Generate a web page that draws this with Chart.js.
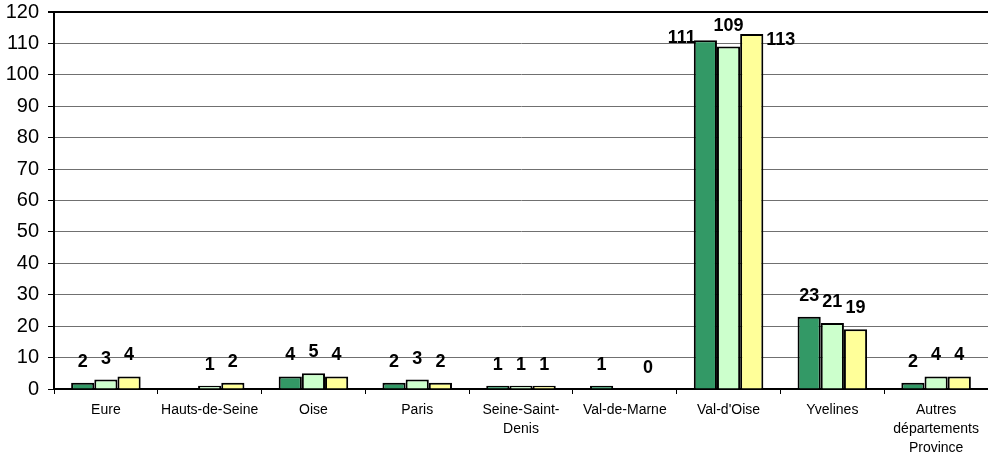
<!DOCTYPE html>
<html>
<head>
<meta charset="utf-8">
<script src="https://cdn.jsdelivr.net/npm/chart.js@4/dist/chart.umd.min.js"></script>
<style>
  html, body { margin: 0; padding: 0; background: #fff; }
  #wrap { width: 988px; height: 455px; position: relative; }
</style>
</head>
<body>
<div id="wrap"><canvas id="myChart"></canvas></div>
<script>
// categories (multi-line labels as in the original)
var categories = [
    'Eure',
    'Hauts-de-Seine',
    'Oise',
    'Paris',
    ['Seine-Saint-', 'Denis'],
    'Val-de-Marne',
    "Val-d'Oise",
    'Yvelines',
    ['Autres', 'départements', 'Province']
];

// series values (null = no bar / no label)
var serie1 = [2, null, 4, 2, 1, 1, 111, 23, 2];
var serie2 = [3, 1, 5, 3, 1, null, 109, 21, 4];
var serie3 = [4, 2, 4, 2, 1, 0, 113, 19, 4];

// y tick labels
var yTicks = [0, 10, 20, 30, 40, 50, 60, 70, 80, 90, 100, 110, 120];

// draw value labels above bars, move them beside the bar when there is no room
var valueLabels = {
    id: 'valueLabels',
    afterDatasetsDraw: function(chart) {
        var ctx = chart.ctx;
        var area = chart.chartArea;
        var n = chart.data.datasets.length;
        ctx.save();
        ctx.font = 'bold 18px "Liberation Sans", Arial, sans-serif';
        ctx.fillStyle = '#000';
        ctx.textBaseline = 'middle';
        chart.data.datasets.forEach(function(ds, i) {
            var meta = chart.getDatasetMeta(i);
            meta.data.forEach(function(bar, j) {
                var v = ds.data[j];
                if (v === null || v === undefined) return;
                var x = bar.x;
                var y = bar.y - 21;
                ctx.textAlign = 'center';
                if (y - 9 < area.top) {
                    if (i === 0) {
                        ctx.textAlign = 'right';
                        x = bar.x - bar.width / 2 + 2;
                        y = bar.y - 2;
                    } else if (i === n - 1) {
                        ctx.textAlign = 'left';
                        x = bar.x + bar.width / 2 + 3;
                        y = bar.y + 6;
                    } else {
                        y = bar.y - 16;
                    }
                }
                ctx.fillText(String(v), x, y);
            });
        });
        ctx.restore();
    }
};

var ctx = document.querySelector('#myChart').getContext('2d');

var chart = new Chart(ctx, {
    type: 'bar',
    data: {
        labels: categories,
        datasets: [{
            label: 'Série 1',
            data: serie1,
            backgroundColor: '#339966',
            borderColor: '#000',
            borderWidth: 2
        }, {
            label: 'Série 2',
            data: serie2,
            backgroundColor: '#ccffcc',
            borderColor: '#000',
            borderWidth: 2
        }, {
            label: 'Série 3',
            data: serie3,
            backgroundColor: '#ffff99',
            borderColor: '#000',
            borderWidth: 2
        }]
    },
    options: {
        responsive: true,
        maintainAspectRatio: false,
        animation: false,
        layout: { padding: { top: 12, right: 0, left: 0, bottom: 0 } },
        plugins: {
            legend: { display: false },
            tooltip: { enabled: false }
        },
        datasets: {
            bar: { categoryPercentage: 0.67, barPercentage: 1.0 }
        },
        scales: {
            x: {
                grid: {
                    offset: true,
                    drawOnChartArea: false,
                    color: '#000',
                    tickLength: 5,
                    lineWidth: 1
                },
                border: { color: '#000', width: 2 },
                ticks: {
                    color: '#000',
                    font: { family: '"Liberation Sans", Arial, sans-serif', size: 14, lineHeight: 1.35 },
                    maxRotation: 0,
                    autoSkip: false,
                    padding: 7
                },
                afterFit: function(scale) {
                    scale.height = 66;
                    scale.paddingLeft = 0;
                    scale.paddingRight = 0;
                }
            },
            y: {
                min: 0,
                max: 120,
                afterBuildTicks: function(scale) {
                    scale.ticks = yTicks.map(function(v) { return { value: v }; });
                },
                grid: {
                    color: function(c) { return c.tick && c.tick.value === 120 ? '#000' : '#707070'; },
                    lineWidth: function(c) { return c.tick && c.tick.value === 120 ? 2 : 1; },
                    tickLength: 6,
                    tickColor: '#000'
                },
                border: { color: '#000', width: 2 },
                ticks: {
                    color: '#000',
                    font: { family: '"Liberation Sans", Arial, sans-serif', size: 20 },
                    padding: 9
                },
                afterFit: function(scale) {
                    scale.width = 54;
                    scale.paddingTop = 0;
                    scale.paddingBottom = 0;
                }
            }
        }
    },
    plugins: [valueLabels]
});
</script>
</body>
</html>
